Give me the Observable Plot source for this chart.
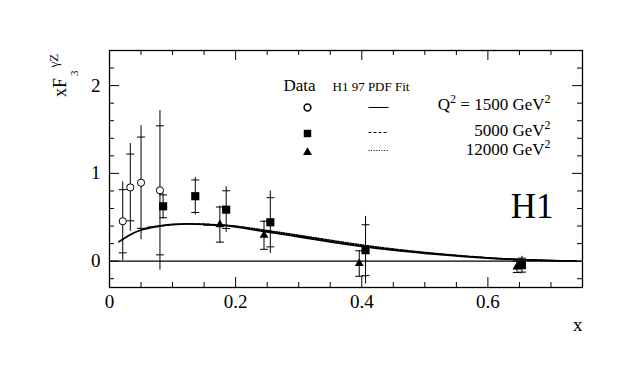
<!DOCTYPE html>
<html><head><meta charset="utf-8">
<script src="https://cdn.jsdelivr.net/npm/d3@7"></script>
<script src="https://cdn.jsdelivr.net/npm/@observablehq/plot@0.6"></script>
<style>
body{margin:0;background:#fff}
#chart{width:632px;height:381px}
</style>
</head><body><div id="chart"></div>
<script>
// ---- data ----
const q1500X    = [0.021, 0.033, 0.050, 0.080];
const q1500Y    = [0.455, 0.84, 0.894, 0.807];
const q1500Stat = [0.36, 0.38, 0.52, 0.735];
const q1500Tot  = [0.45, 0.50, 0.65, 0.91];

const q5000X    = [0.085, 0.136, 0.185, 0.255, 0.406, 0.654];
const q5000Y    = [0.625, 0.74, 0.587, 0.443, 0.125, -0.045];
const q5000Stat = [0.13, 0.185, 0.215, 0.28, 0.29, 0.08];
const q5000Tot  = [0.145, 0.215, 0.26, 0.355, 0.385, 0.10];

const q12000X    = [0.175, 0.245, 0.396, 0.646];
const q12000Y    = [0.417, 0.295, -0.027, -0.065];
const q12000Stat = [0.20, 0.16, 0.145, 0.065];
const q12000Tot  = [0.21, 0.165, 0.15, 0.07];

const fit1500X = [0.015, 0.03, 0.05, 0.075, 0.1, 0.125, 0.15, 0.175, 0.2, 0.25, 0.3, 0.35, 0.4, 0.45, 0.5, 0.55, 0.6, 0.65, 0.7, 0.74];
const fit1500Y = [0.22, 0.29, 0.355, 0.395, 0.418, 0.424, 0.42, 0.408, 0.39, 0.333, 0.278, 0.22, 0.168, 0.125, 0.09, 0.06, 0.035, 0.017, 0.006, 0.0];
const fit5000X = [0.06, 0.08, 0.1, 0.125, 0.15, 0.175, 0.2, 0.25, 0.3, 0.35, 0.4, 0.45, 0.5, 0.55, 0.6, 0.65, 0.7, 0.74];
const fit5000Y = [0.385, 0.40, 0.415, 0.423, 0.422, 0.412, 0.397, 0.343, 0.288, 0.232, 0.178, 0.133, 0.096, 0.064, 0.038, 0.019, 0.007, 0.0];
const fit12000X = [0.15, 0.175, 0.2, 0.25, 0.3, 0.35, 0.4, 0.45, 0.5, 0.55, 0.6, 0.65, 0.7, 0.74];
const fit12000Y = [0.41, 0.412, 0.40, 0.35, 0.296, 0.24, 0.186, 0.14, 0.101, 0.068, 0.04, 0.02, 0.008, 0.0];

const xTickLabels = [0, 0.2, 0.4, 0.6];
const yTickLabels = [0, 1, 2];
const xMinorTicks = d3.range(0, 0.751, 0.05).map(v => +v.toFixed(2)).filter(v => !xTickLabels.includes(v));
const yMinorTicks = d3.range(-0.2, 2.41, 0.2).map(v => +v.toFixed(1)).filter(v => !yTickLabels.includes(v));

// legend labels
const legendPrefix = ["Q", "", ""];
const legendQ2 = ["1500", "5000", "12000"];

// ---- build tables ----
const rows = (X, Y, S, T) => X.map((x, i) => ({x, y: Y[i], stat: S[i], tot: T[i]}));
const pts1500 = rows(q1500X, q1500Y, q1500Stat, q1500Tot);
const pts5000 = rows(q5000X, q5000Y, q5000Stat, q5000Tot);
const pts12000 = rows(q12000X, q12000Y, q12000Stat, q12000Tot);
const allPts = [...pts1500, ...pts5000, ...pts12000];
const curve = (X, Y) => X.map((x, i) => ({x, y: Y[i]}));

const W = 632, H = 381, ML = 109, MR = 50, MT = 50, MB = 94;
const IW = W - ML - MR, IH = H - MT - MB;
const FONT = "'Liberation Serif', 'Times New Roman', Times, serif";

const capSymbol = {draw(ctx) { ctx.moveTo(-4, 0); ctx.lineTo(4, 0); }};
const lineSym = {draw(ctx) { ctx.moveTo(-10, 0); ctx.lineTo(10, 0); }};

const LX = 174; // legend offsets from the frame's top-left
const legendRowsDy = [59, 85, 104];

// legend Q² label mark: content rebuilt with real super-script tspans, position left to Plot
const q2Label = (i) => Plot.text([legendQ2[i]], {
  text: d => d, frameAnchor: "top-left", dx: LX + 267, dy: legendRowsDy[i],
  textAnchor: "end", lineAnchor: "bottom", fontSize: 17,
  render: (index, scales, values, dims, ctx, next) => {
    const g = next(index, scales, values, dims, ctx);
    d3.select(g).selectAll("text").each(function() {
      const el = d3.select(this);
      el.text(null);
      if (legendPrefix[i]) {
        el.append("tspan").text(legendPrefix[i]);
        el.append("tspan").attr("font-size", 12).attr("dy", -7).text("2");
        el.append("tspan").attr("dy", 7).text(" = " + legendQ2[i] + " GeV");
      } else {
        el.append("tspan").text(legendQ2[i] + " GeV");
      }
      el.append("tspan").attr("font-size", 12).attr("dy", -7).text("2");
    });
    return g;
  }
});

const chart = Plot.plot({
  width: W, height: H,
  marginLeft: ML, marginRight: MR, marginTop: MT, marginBottom: MB,
  style: {fontFamily: FONT, background: "white", color: "black"},
  x: {domain: [0, 0.75]},
  y: {domain: [-0.3, 2.4]},
  marks: [
    Plot.frame({stroke: "black", strokeWidth: 1.3}),
    Plot.ruleY([0], {stroke: "black", strokeWidth: 1.2}),
    // inward ticks on four sides
    Plot.tickX(xMinorTicks, {x: d => d, insetTop: IH - 5, stroke: "black"}),
    Plot.tickX(xTickLabels, {x: d => d, insetTop: IH - 10, stroke: "black"}),
    Plot.tickX(xMinorTicks, {x: d => d, insetBottom: IH - 5, stroke: "black"}),
    Plot.tickX(xTickLabels, {x: d => d, insetBottom: IH - 10, stroke: "black"}),
    Plot.tickY(yMinorTicks, {y: d => d, insetRight: IW - 5, stroke: "black"}),
    Plot.tickY(yTickLabels, {y: d => d, insetRight: IW - 10, stroke: "black"}),
    Plot.tickY(yMinorTicks, {y: d => d, insetLeft: IW - 5, stroke: "black"}),
    Plot.tickY(yTickLabels, {y: d => d, insetLeft: IW - 10, stroke: "black"}),
    Plot.axisX({ticks: xTickLabels, tickSize: 0, tickPadding: 7, label: null, fontSize: 19,
      tickFormat: d => d === 0 ? "0" : d3.format(".1f")(d)}),
    Plot.axisY({ticks: yTickLabels, tickSize: 0, tickPadding: 9, label: null, fontSize: 19,
      tickFormat: d => String(d)}),
    // fit curves
    Plot.line(curve(fit1500X, fit1500Y), {x: "x", y: "y", curve: "natural", stroke: "black", strokeWidth: 1.8}),
    Plot.line(curve(fit5000X, fit5000Y), {x: "x", y: "y", curve: "natural", stroke: "black", strokeWidth: 1.4, strokeDasharray: "3,2"}),
    Plot.line(curve(fit12000X, fit12000Y), {x: "x", y: "y", curve: "natural", stroke: "black", strokeWidth: 1.4, strokeDasharray: "1,1.5"}),
    // error bars
    Plot.ruleX(allPts, {x: "x", y1: d => d.y - d.tot, y2: d => d.y + d.tot, stroke: "black", strokeWidth: 1}),
    Plot.dot(allPts, {x: "x", y: d => d.y + d.stat, symbol: capSymbol, stroke: "black", fill: "none", strokeWidth: 1}),
    Plot.dot(allPts, {x: "x", y: d => d.y - d.stat, symbol: capSymbol, stroke: "black", fill: "none", strokeWidth: 1}),
    // markers
    Plot.dot(pts1500, {x: "x", y: "y", r: 3.6, stroke: "black", fill: "white", strokeWidth: 1}),
    Plot.dot(pts5000, {x: "x", y: "y", symbol: "square", r: 4.6, fill: "black", stroke: "none"}),
    Plot.dot(pts12000, {x: "x", y: "y", symbol: "triangle", r: 3.3, fill: "black", stroke: "none"}),
    // legend
    Plot.text(["Data"], {text: d => d, frameAnchor: "top-left", dx: LX, dy: 40, textAnchor: "start", lineAnchor: "bottom", fontSize: 17}),
    Plot.text(["H1 97 PDF Fit"], {text: d => d, frameAnchor: "top-left", dx: LX + 49, dy: 40, textAnchor: "start", lineAnchor: "bottom", fontSize: 13}),
    Plot.dot([0], {frameAnchor: "top-left", dx: LX + 24, dy: 57, r: 3.4, stroke: "black", fill: "white"}),
    Plot.dot([0], {frameAnchor: "top-left", dx: LX + 24, dy: 83, symbol: "square", r: 4.2, fill: "black", stroke: "none"}),
    Plot.dot([0], {frameAnchor: "top-left", dx: LX + 24, dy: 102, symbol: "triangle", r: 3.3, fill: "black", stroke: "none"}),
    Plot.dot([0], {frameAnchor: "top-left", dx: LX + 95, dy: 57, symbol: lineSym, stroke: "black", fill: "none", strokeWidth: 1}),
    Plot.dot([0], {frameAnchor: "top-left", dx: LX + 95, dy: 82, symbol: lineSym, stroke: "black", fill: "none", strokeWidth: 1, strokeDasharray: "3,2"}),
    Plot.dot([0], {frameAnchor: "top-left", dx: LX + 95, dy: 100, symbol: lineSym, stroke: "black", fill: "none", strokeWidth: 1, strokeDasharray: "1,1.6"}),
    q2Label(0), q2Label(1), q2Label(2),
    Plot.text(["H1"], {text: d => d, frameAnchor: "top-right", dx: -29, dy: 167, textAnchor: "end", lineAnchor: "bottom", fontSize: 35}),
    Plot.text(["x"], {text: d => d, frameAnchor: "bottom-right", dx: 0, dy: 43, textAnchor: "end", lineAnchor: "bottom", fontSize: 19})
  ]
});

// y-axis title with sub/superscripts
const svg = d3.select(chart);
const t = svg.append("text")
  .attr("transform", "translate(66,97) rotate(-90)")
  .attr("font-family", FONT).attr("font-size", 18).attr("fill", "black").attr("text-anchor", "start");
t.append("tspan").text("xF");
t.append("tspan").attr("font-size", 11).attr("dx", 2).attr("dy", 12).text("3");
t.append("tspan").attr("font-size", 13).attr("dx", 3).attr("dy", -20).text("γZ");

document.getElementById("chart").appendChild(chart);
</script>
</body></html>
